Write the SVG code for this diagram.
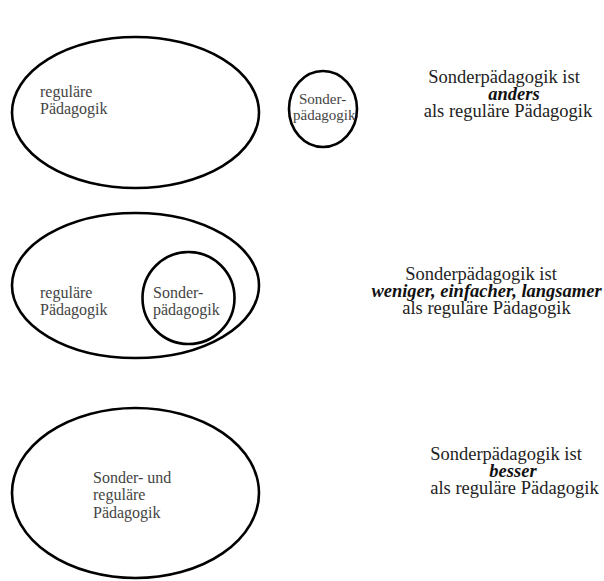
<svg xmlns="http://www.w3.org/2000/svg" width="604" height="581" viewBox="0 0 604 581">
<style>
.sh{fill:none;stroke:#000;stroke-width:2.6}
text{font-family:"Liberation Serif","Tinos","Times New Roman","Noto Serif","DejaVu Serif",serif}
.lb{font-size:16px;fill:#444}
.rt{font-size:18.5px;fill:#222;text-anchor:middle}
.em{font-weight:bold;font-style:italic;fill:#111}
</style>
<rect width="604" height="581" fill="#fff"/>
<g id="row1-regulaer">
<ellipse class="sh" cx="135.5" cy="112.5" rx="123.5" ry="75.5"/>
<text class="lb" x="40" y="97">reguläre</text>
<text class="lb" x="40" y="114">Pädagogik</text>
</g>
<g id="row1-sonder">
<ellipse class="sh" cx="323" cy="109" rx="34" ry="38"/>
<text class="lb" x="299" y="104" style="font-size:15px">Sonder-</text>
<text class="lb" x="293" y="120" style="font-size:15px">pädagogik</text>
</g>
<g id="row1-text">
<text class="rt" x="504" y="83">Sonderpädagogik ist</text>
<text class="rt em" x="514" y="100">anders</text>
<text class="rt" x="508" y="117">als reguläre Pädagogik</text>
</g>
<g id="row2-regulaer">
<ellipse class="sh" cx="135.5" cy="285.5" rx="123.5" ry="72.5"/>
<text class="lb" x="40" y="298">reguläre</text>
<text class="lb" x="40" y="315">Pädagogik</text>
</g>
<g id="row2-sonder">
<ellipse class="sh" cx="188.5" cy="298" rx="46" ry="46"/>
<text class="lb" x="153" y="298">Sonder-</text>
<text class="lb" x="153" y="315">pädagogik</text>
</g>
<g id="row2-text">
<text class="rt" x="481" y="280">Sonderpädagogik ist</text>
<text class="rt em" x="486.5" y="297">weniger, einfacher, langsamer</text>
<text class="rt" x="486.5" y="314">als reguläre Pädagogik</text>
</g>
<g id="row3-beide">
<ellipse class="sh" cx="135.5" cy="493" rx="123.5" ry="85"/>
<text class="lb" x="93" y="483">Sonder- und</text>
<text class="lb" x="93" y="500">reguläre</text>
<text class="lb" x="93" y="518">Pädagogik</text>
</g>
<g id="row3-text">
<text class="rt" x="506" y="460">Sonderpädagogik ist</text>
<text class="rt em" x="513" y="477">besser</text>
<text class="rt" x="514.5" y="494">als reguläre Pädagogik</text>
</g>
<g id="connectors"/>
</svg>
